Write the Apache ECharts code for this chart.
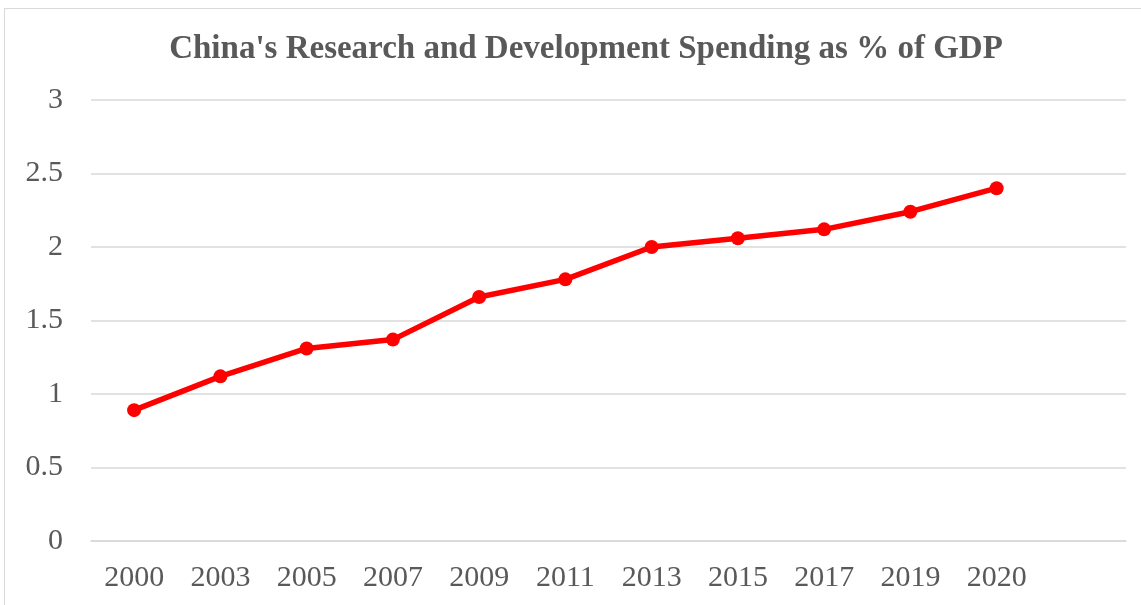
<!DOCTYPE html>
<html>
<head>
<meta charset="utf-8">
<script src="https://cdn.jsdelivr.net/npm/echarts@6/dist/echarts.min.js"></script>
<style>
html,body{margin:0;padding:0;background:#fff;overflow:hidden;}
#frame{position:absolute;left:4px;top:8px;width:1200px;height:700px;border:1px solid #d9d9d9;box-sizing:border-box;}
#main{position:absolute;left:0;top:0;width:1141px;height:605px;}
</style>
</head>
<body>
<div id="frame"></div>
<div id="main"></div>
<script>
const titleText = "China's Research and Development Spending as % of GDP";
const years = ['2000','2003','2005','2007','2009','2011','2013','2015','2017','2019','2020',''];
const spending = [0.89, 1.12, 1.31, 1.37, 1.66, 1.78, 2.00, 2.06, 2.12, 2.24, 2.40];

const chart = echarts.init(document.getElementById('main'), null, {renderer: 'canvas'});
chart.setOption({
  backgroundColor: 'transparent',
  animation: false,
  title: {
    text: titleText,
    left: 581,
    textAlign: 'center',
    top: 28,
    textStyle: {fontFamily: 'Liberation Serif', fontWeight: 'bold', fontSize: 33, color: '#595959'}
  },
  grid: {left: 91, right: 15, top: 100, bottom: 64, containLabel: false},
  xAxis: {
    type: 'category',
    data: years,
    boundaryGap: true,
    axisTick: {show: false},
    axisLine: {show: true, lineStyle: {color: '#d9d9d9', width: 1.5}},
    axisLabel: {fontFamily: 'Liberation Serif', fontSize: 30, color: '#595959', margin: 22, interval: 0}
  },
  yAxis: {
    type: 'value',
    min: 0, max: 3, interval: 0.5,
    axisLine: {show: false},
    axisTick: {show: false},
    splitLine: {lineStyle: {color: '#d9d9d9', width: 1.5}},
    axisLabel: {fontFamily: 'Liberation Serif', fontSize: 30, color: '#595959', margin: 28}
  },
  series: [{
    type: 'line',
    data: spending,
    symbol: 'circle',
    symbolSize: 14,
    lineStyle: {color: '#ff0000', width: 5.5},
    itemStyle: {color: '#ff0000'}
  }]
});
</script>
</body>
</html>
